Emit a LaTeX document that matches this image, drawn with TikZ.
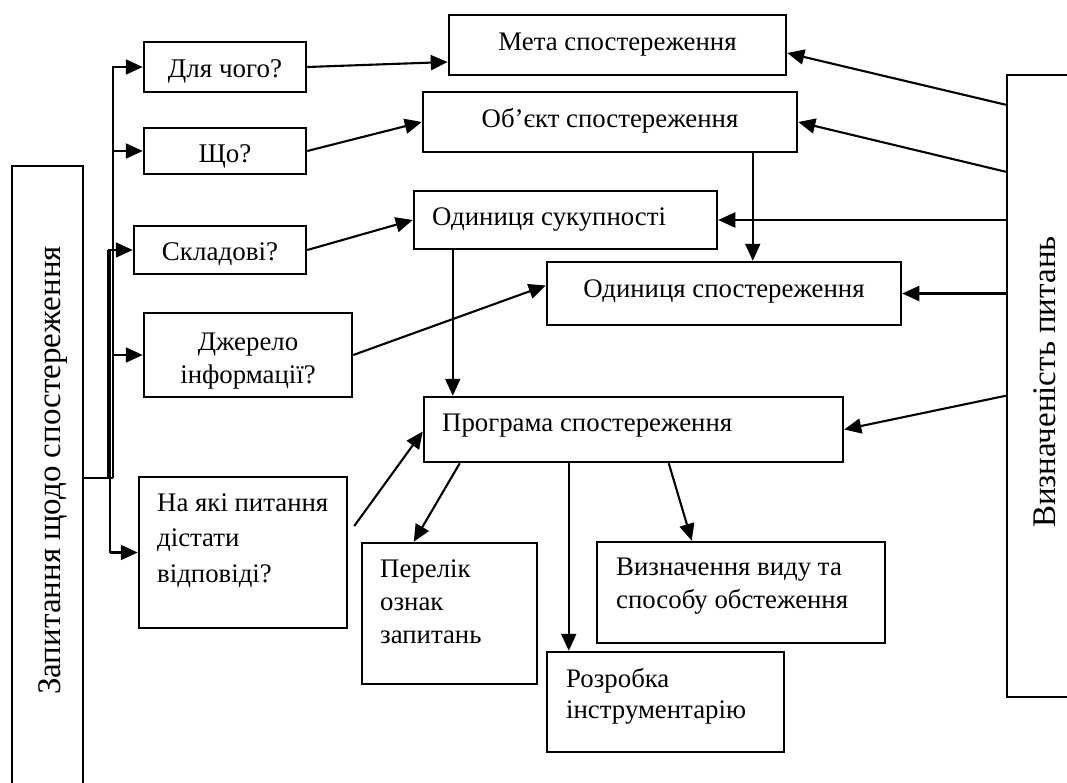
\documentclass[tikz,border=0pt]{standalone}
\usepackage{fontspec}
\setmainfont{Liberation Serif}
\usetikzlibrary{arrows.meta,calc,fit}
\begin{document}
\begin{tikzpicture}[x=1pt,y=-1pt,
  box/.style={draw, line width=2.5pt, inner sep=0pt, rectangle},
  lbl/.style={inner sep=0pt, font=\fontsize{26.8}{33}\selectfont},
  qlbl/.style={inner sep=0pt, font=\fontsize{27}{33}\selectfont},
  side/.style={inner sep=0pt, font=\fontsize{33}{40}\selectfont, rotate=90, anchor=base west},
  arr/.style={line width=2.1pt, -{Triangle[length=17pt,width=15pt]}},
  wire/.style={line width=2.1pt},
  thinwire/.style={line width=1.4pt}]
\useasboundingbox (0,0) rectangle (1067,782);
\clip (0,0) rectangle (1067,782);

% boxes
\node[box, fit={(12,166) (83,800)}] (leftbox) {};
\node[box, fit={(1007,75) (1090,697)}] (rightbox) {};
\node[box, fit={(144,42) (306,92)}] (dlya) {};
\node[box, fit={(144,128) (306,174)}] (scho) {};
\node[box, fit={(134,226) (306,274)}] (sklad) {};
\node[box, fit={(144,313) (352,397)}] (dzherelo) {};
\node[box, fit={(139,477) (347,628)}] (nayaki) {};
\node[box, fit={(449,15) (786,75)}] (meta) {};
\node[box, fit={(423,92) (797,152)}] (obj) {};
\node[box, fit={(414,191) (717,249)}] (sukup) {};
\node[box, fit={(547,262) (901,325)}] (odsp) {};
\node[box, fit={(424,397) (843,462)}] (prog) {};
\node[box, fit={(362,543) (537,684)}] (perelik) {};
\node[box, fit={(597,542) (885,643)}] (vyzn) {};
\node[box, fit={(547,652) (784,752)}] (rozr) {};

% texts (multi-line nodes are placed by the baseline of their last line)
\node[qlbl, anchor=base] (tdlya) at (225,77) {Для чого?};
\node[qlbl, anchor=base] (tscho) at (225,162) {Що?};
\node[qlbl, anchor=base] (tsklad) at (220,260) {Складові?};
\node[lbl, anchor=base, align=center] (tdzh) at (248,383) {Джерело\\інформації?};
\node[lbl, anchor=base west, align=left, font=\fontsize{26.8}{35.5}\selectfont] (tnayaki) at (157,582) {На які питання\\дістати\\відповіді?};
\node[lbl, anchor=base] (tmeta) at (617.5,50.5) {Мета спостереження};
\node[lbl, anchor=base] (tobj) at (610,127) {Об’єкт спостереження};
\node[lbl, anchor=base west] (tsukup) at (432,225) {Одиниця сукупності};
\node[lbl, anchor=base] (todsp) at (724,297) {Одиниця спостереження};
\node[lbl, anchor=base west] (tprog) at (442,431) {Програма спостереження};
\node[lbl, anchor=base west, align=left] (tperelik) at (380,643) {Перелік\\ознак\\запитань};
\node[lbl, anchor=base west, align=left] (tvyzn) at (616,608) {Визначення виду та\\способу обстеження};
\node[lbl, anchor=base west, align=left, font=\fontsize{26.8}{31}\selectfont] (trozr) at (566,718) {Розробка\\інструментарію};
\node[side] (tleft) at (60,695) {Запитання щодо спостереження};
\node[side] (tright) at (1055,528) {Визначеність питань};

% branching lines from the left box
\coordinate (hub) at (113,478);
\coordinate (hubB) at (108,478);
\coordinate (hubC) at (110,250);
\draw[wire] (leftbox.east |- hub) -- (hub);
\draw[arr] (hub) -- (hub |- dlya.west) -- (dlya.west);
\draw[arr] (scho.west -| hub) -- (scho.west);
\draw[arr] (dzherelo.west -| hub) -- (dzherelo.west);
\draw[thinwire] (hubB) -- (hubB |- sklad.west);
\draw[arr] (hubB |- sklad.west) -- (sklad.west);
\draw[thinwire] (hubC) -- (hubC |- nayaki.west);
\draw[arr] (hubC |- nayaki.west) -- (nayaki.west);

% questions to the elements
\draw[arr] (dlya.east) -- ($(meta.west)+(0,17)$);
\draw[arr] (scho.east) -- (obj.west);
\draw[arr] (sklad.east) -- (sukup.west);
\draw[arr] (dzherelo.east) -- ($(odsp.west)+(0,-8)$);
\draw[arr] ($(nayaki.east)+(6,-26.5)$) -- ($(prog.west)+(0,2)$);

% vertical links
\draw[arr] ($(sukup.south west)+(40,0)$) coordinate (a1) -- (a1 |- prog.north);
\draw[arr] ($(obj.south west)+(331,0)$) coordinate (a2) -- (a2 |- odsp.north);

% from the right box
\draw[arr] ($(rightbox.north west)+(0,31)$) -- ($(meta.east)+(0,8)$);
\draw[arr] ($(rightbox.north west)+(0,98)$) -- (obj.east);
\draw[arr] (sukup.east -| rightbox.west) -- (sukup.east);
\draw[arr] (odsp.east -| rightbox.west) -- (odsp.east);
\draw[arr] ($(rightbox.north west)+(0,322)$) -- (prog.east);

% programme outputs
\draw[arr] ($(prog.south west)+(37,0)$) -- ($(perelik.north west)+(53,0)$);
\draw[arr] ($(prog.south west)+(146,0)$) coordinate (a3) -- (a3 |- rozr.north);
\draw[arr] ($(prog.south west)+(246,0)$) -- ($(vyzn.north west)+(96,0)$);
\end{tikzpicture}
\end{document}
